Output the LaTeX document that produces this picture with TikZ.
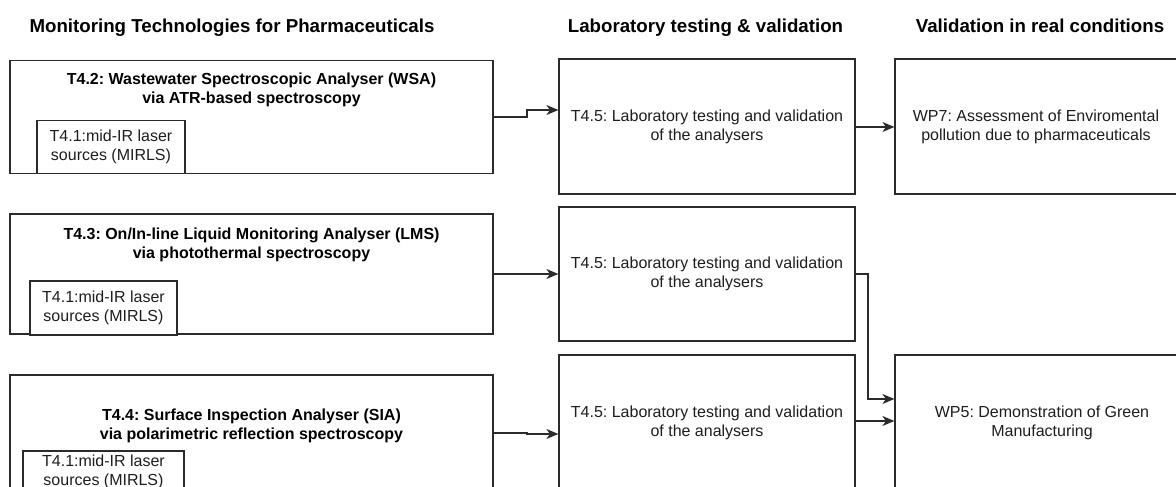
\documentclass[tikz,border=0pt]{standalone}
\usepackage{fontspec}
\setmainfont{Liberation Sans}
\usetikzlibrary{arrows.meta}
\definecolor{ln}{HTML}{2B2B2B}
\definecolor{tx}{HTML}{1E1E1E}
\frenchspacing
\begin{document}
\begin{tikzpicture}[x=1pt,y=-1pt,
  box/.style={draw=ln,line width=1.2pt,rectangle,inner sep=0pt,fill=white},
  head/.style={font=\fontsize{18.7}{22}\selectfont\bfseries,text=black,anchor=base},
  btxt/.style={font=\fontsize{16}{19}\selectfont\bfseries,align=center,text=black},
  ntxt/.style={font=\fontsize{16}{19}\selectfont,align=center,text=tx},
  mtxt/.style={font=\fontsize{16}{19}\selectfont,align=center,text=tx},
  arr/.style={draw=ln,line width=1.2pt,-{Stealth[length=12pt,width=10pt,inset=3.5pt]}}]
\useasboundingbox (0,0) rectangle (1176,487);
\clip (0,0) rectangle (1176,487);
% headers
\node[head] (h1) at (232,33) {Monitoring Technologies for Pharmaceuticals};
\node[head] (h2) at (705.5,33) {Laboratory testing \& validation};
\node[head] (h3) at (1040,33) {Validation in real conditions};
% left column
\node[box,minimum width=483pt,minimum height=113pt] (b1) at (251.5,117) {};
\node[btxt] (b1t) at (251.5,90) {T4.2: Wastewater Spectroscopic Analyser (WSA)\\via ATR-based spectroscopy};
\node[box,mtxt,minimum width=148pt,minimum height=53pt] (m1) at (111,147) {T4.1:mid-IR laser\\sources (MIRLS)};
\node[box,minimum width=483pt,minimum height=120pt] (b2) at (251.5,274) {};
\node[btxt] (b2t) at (251.5,245) {T4.3: On/In-line Liquid Monitoring Analyser (LMS)\\via photothermal spectroscopy};
\node[box,mtxt,minimum width=147pt,minimum height=54pt] (m2) at (103.5,308) {T4.1:mid-IR laser\\sources (MIRLS)};
\node[box,minimum width=483pt,minimum height=130pt] (b3) at (251.5,440) {};
\node[btxt] (b3t) at (251.5,425.5) {T4.4:~Surface Inspection Analyser (SIA)\\via polarimetric reflection spectroscopy};
\node[box,mtxt,minimum width=161pt,minimum height=42pt] (m3) at (103.5,472) {T4.1:mid-IR laser\\sources (MIRLS)};
% middle column
\node[box,ntxt,minimum width=296pt,minimum height=135pt] (t1) at (707,126.5) {T4.5: Laboratory testing and validation\\of the analysers};
\node[box,ntxt,minimum width=296pt,minimum height=134pt] (t2) at (707,274) {T4.5: Laboratory testing and validation\\of the analysers};
\node[box,ntxt,minimum width=296pt,minimum height=136pt] (t3) at (707,423) {T4.5: Laboratory testing and validation\\of the analysers};
% right column
\node[box,ntxt,minimum width=282pt,minimum height=135pt] (w7) at (1036,126.5) {WP7: Assessment of Enviromental\\pollution due to pharmaceuticals};
\node[box,ntxt,minimum width=294pt,minimum height=136pt] (w5) at (1042,423) {WP5: Demonstration of Green\\Manufacturing};
% connectors
\draw[arr] (b1.east |- 0,117) -- (527,117) |- (t1.west |- 0,110);
\draw[arr] (b2.east |- 0,274) -- (t2.west |- 0,274);
\draw[arr] (b3.east |- 0,433) -- (527,433) |- (t3.west |- 0,434);
\draw[arr] (t1.east |- 0,127) -- (w7.west |- 0,127);
\draw[arr] (t2.east |- 0,274) -- (868,274) |- (w5.west |- 0,399);
\draw[arr] (t3.east |- 0,421) -- (w5.west |- 0,421);
\end{tikzpicture}
\end{document}
